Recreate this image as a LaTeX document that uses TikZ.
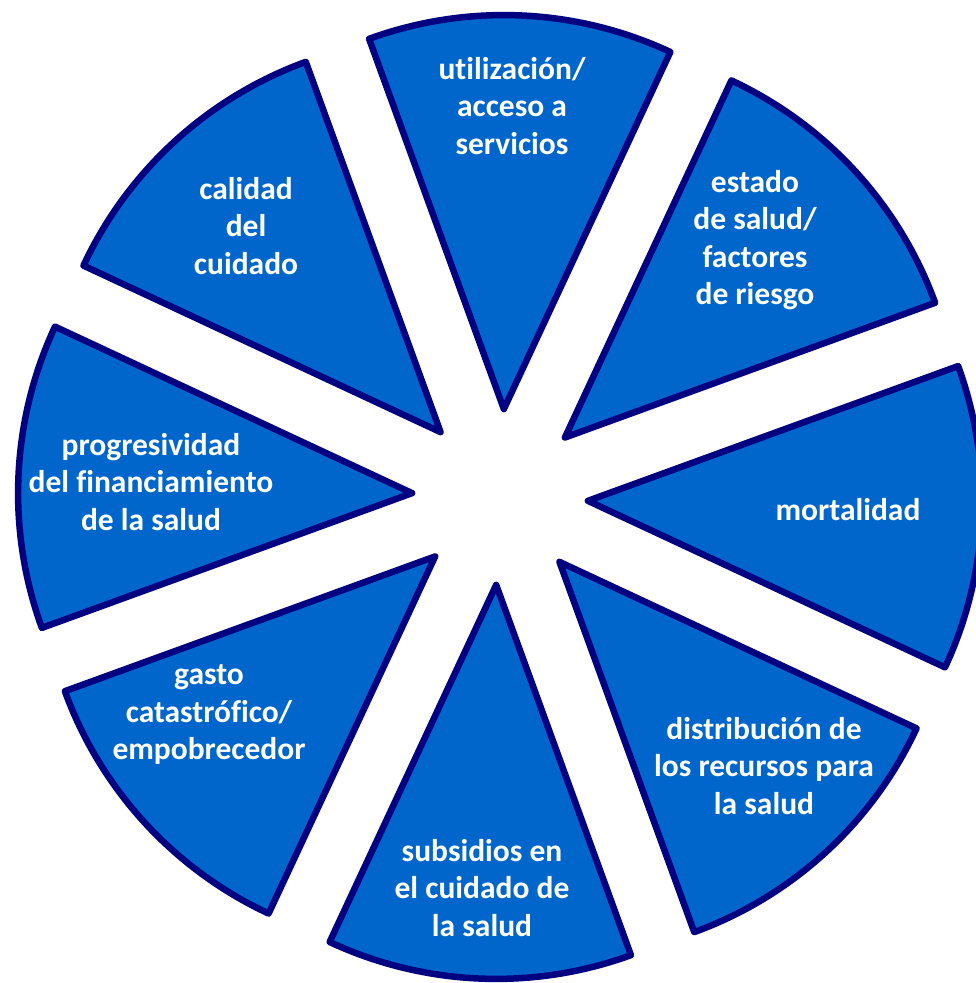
\documentclass[tikz,border=0pt]{standalone}
\usepackage{fontspec}
\setmainfont{Carlito}[Ligatures=NoCommon]
\usetikzlibrary{calc}
\definecolor{wedgefill}{HTML}{0066CC}
\definecolor{wedgeline}{HTML}{000080}
\begin{document}
\begin{tikzpicture}[x=1pt,y=1pt,
  wedge/.style={fill=wedgefill,draw=wedgeline,line width=6.5pt,line join=round},
  lbl/.style={text=white,align=center,inner sep=0pt,
    font=\bfseries\fontsize{31.5}{37.5}\selectfont}]
  \useasboundingbox (0,0) rectangle (976,983);
  \clip (0,0) rectangle (976,983);
  \coordinate (C) at (500,486);
  % eight exploded 45-degree slices, each pushed 88 units out along its bisector
  \foreach \m/\n in {87.5/s1,42.5/s2,-2.5/s3,-47.5/s4,-92.5/s5,-137.5/s6,177.5/s7,132.5/s8}{
    \coordinate (\n) at ($(C)+(\m:88)$);
    \draw[wedge] (\n) -- ++(\m-22.5:394)
      arc[start angle=\m-22.5, end angle=\m+22.5, radius=394] -- cycle;
  }
  \node[lbl] (t1) at (512,877) {utilización/\\acceso a\\servicios};
  \node[lbl] (t2) at (755,743) {estado\\de salud/\\factores\\de riesgo};
  \node[lbl] (t3) at (848,473) {mortalidad};
  \node[lbl] (t4) at (764,217) {distribución de\\los recursos para\\la salud};
  \node[lbl] (t5) at (482,95) {subsidios en\\el cuidado de\\la salud};
  \node[lbl] (t6) at (209,268) {gasto\\catastrófico/\\empobrecedor};
  \node[lbl] (t7) at (151,501) {progresividad\\del financiamiento\\de la salud};
  \node[lbl] (t8) at (246,757) {calidad\\del\\cuidado};
\end{tikzpicture}
\end{document}
